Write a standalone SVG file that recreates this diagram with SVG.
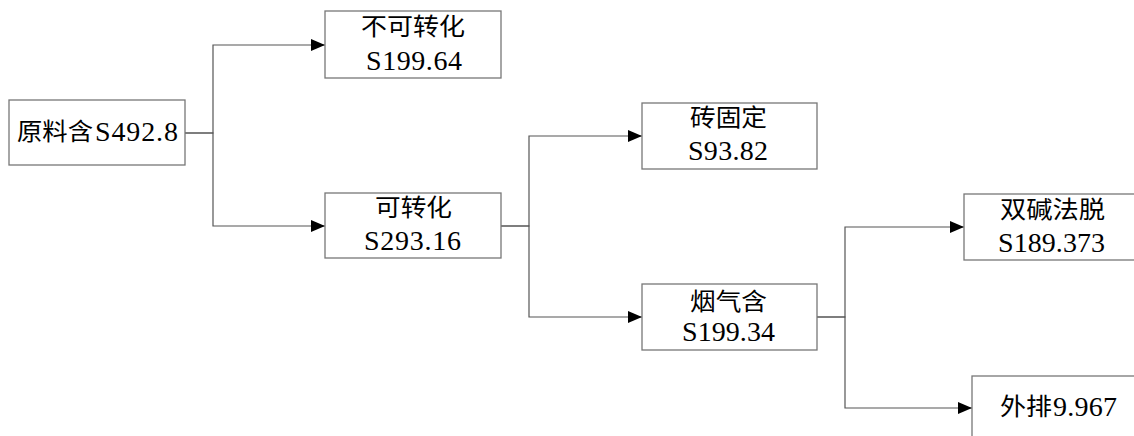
<svg xmlns="http://www.w3.org/2000/svg" width="1134" height="436" viewBox="0 0 1134 436">
<style>
.box{fill:#fff;stroke:#777;stroke-width:1.3}
.cjk{font-family:"Noto Sans CJK SC","Noto Sans CJK JP",sans-serif;font-size:24px;fill:#000}
.lat{font-family:"Liberation Serif",serif;font-size:28px;fill:#000}
.con{fill:none;stroke:#555;stroke-width:1.2}
</style>
<defs>
<marker id="arr" markerUnits="userSpaceOnUse" markerWidth="15" markerHeight="13" refX="14" refY="6" orient="auto">
<path d="M0,0 L14,6 L0,12 z" fill="#000"/>
</marker>
</defs>
<rect width="1134" height="436" fill="#fff"/>
<g id="connectors">
<path class="con" d="M185,133 H213 V45 H325" marker-end="url(#arr)"/>
<path class="con" d="M185,133 H213 V226 H325" marker-end="url(#arr)"/>
<path class="con" d="M501,226 H529 V136 H642" marker-end="url(#arr)"/>
<path class="con" d="M501,226 H529 V317 H642" marker-end="url(#arr)"/>
<path class="con" d="M817,317 H845 V227 H964" marker-end="url(#arr)"/>
<path class="con" d="M817,317 H845 V408 H972" marker-end="url(#arr)"/>
</g>
<g id="n1">
<rect class="box" x="9" y="100" width="176" height="65"/>
<text class="cjk" x="17" y="140" textLength="76" lengthAdjust="spacingAndGlyphs">原料含</text>
<text class="lat" x="95" y="141" textLength="83" lengthAdjust="spacing">S492.8</text>
</g>
<g id="n2">
<rect class="box" x="325" y="11" width="176" height="67"/>
<text class="cjk" x="361" y="35" textLength="104" lengthAdjust="spacingAndGlyphs">不可转化</text>
<text class="lat" x="366" y="70" textLength="96" lengthAdjust="spacing">S199.64</text>
</g>
<g id="n3">
<rect class="box" x="325" y="193" width="176" height="65"/>
<text class="cjk" x="375" y="216" textLength="77" lengthAdjust="spacingAndGlyphs">可转化</text>
<text class="lat" x="364" y="250" textLength="97" lengthAdjust="spacing">S293.16</text>
</g>
<g id="n4">
<rect class="box" x="642" y="103" width="175" height="66"/>
<text class="cjk" x="690" y="126" textLength="77" lengthAdjust="spacingAndGlyphs">砖固定</text>
<text class="lat" x="688" y="160" textLength="80" lengthAdjust="spacing">S93.82</text>
</g>
<g id="n5">
<rect class="box" x="642" y="284" width="175" height="66"/>
<text class="cjk" x="690" y="310" textLength="77" lengthAdjust="spacingAndGlyphs">烟气含</text>
<text class="lat" x="682" y="341" textLength="93" lengthAdjust="spacing">S199.34</text>
</g>
<g id="n6">
<rect class="box" x="964" y="194" width="176" height="66"/>
<text class="cjk" x="1000" y="218" textLength="105" lengthAdjust="spacingAndGlyphs">双碱法脱</text>
<text class="lat" x="998" y="252" textLength="107" lengthAdjust="spacing">S189.373</text>
</g>
<g id="n7">
<rect class="box" x="972" y="376" width="176" height="66"/>
<text class="cjk" x="1000" y="415" textLength="52" lengthAdjust="spacingAndGlyphs">外排</text>
<text class="lat" x="1053" y="416" textLength="64" lengthAdjust="spacing">9.967</text>
</g>
</svg>
